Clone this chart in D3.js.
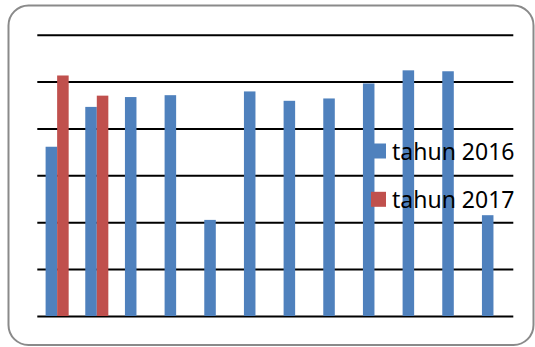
<!DOCTYPE html>
<html>
<head>
<meta charset="utf-8">
<script src="https://cdnjs.cloudflare.com/ajax/libs/d3/7.8.5/d3.min.js"></script>
<style>
  body { margin: 0; background: #fff; }
  .legend { font-family: "Noto Sans", sans-serif; font-size: 23px; fill: #000; }
</style>
</head>
<body>
<div id="chart"></div>
<script>
// data
const categories = ["1", "2", "3", "4", "5", "6", "7", "8", "9", "10", "11", "12"];
const series = ["tahun 2016", "tahun 2017"];
const values2016 = [36.1, 44.6, 46.7, 47.1, 20.5, 47.9, 45.9, 46.4, 49.6, 52.4, 52.2, 21.5];
const values2017 = [51.3, 47.0, null, null, null, null, null, null, null, null, null, null];
const yTicks = [0, 10, 20, 30, 40, 50, 60];
const colors = ["#4F81BD", "#C0504D"];

const W = 535, H = 347;
const plot = {left: 37.3, right: 513.3, top: 34.7, bottom: 316};

const svg = d3.select("#chart")
  .append("svg")
    .attr("width", W)
    .attr("height", H);

// outer rounded frame
svg.append("rect")
  .attr("x", 8.5)
  .attr("y", 5.5)
  .attr("width", 525)
  .attr("height", 339.5)
  .attr("rx", 20)
  .attr("fill", "#fff")
  .attr("stroke", "#8a8a8a")
  .attr("stroke-width", 2);

// scales
const x0 = d3.scaleBand()
  .domain(categories)
  .range([plot.left, plot.right])
  .padding(0);

const x1 = d3.scaleBand()
  .domain(series)
  .range([0, x0.bandwidth()])
  .paddingInner(0)
  .paddingOuter(0.72);

const y = d3.scaleLinear()
  .domain([0, 60])
  .range([plot.bottom, plot.top]);

const color = d3.scaleOrdinal().domain(series).range(colors);

// horizontal grid lines
svg.append("g")
  .attr("transform", `translate(${plot.left},0)`)
  .call(d3.axisLeft(y).tickValues(yTicks).tickSize(-(plot.right - plot.left)).tickFormat(""))
  .call(g => g.select(".domain").remove())
  .call(g => g.selectAll(".tick line").attr("stroke", "#000").attr("stroke-width", 2));

// bars
const rows = categories.map((c, i) => ({cat: c, vals: [
  {key: series[0], v: values2016[i]},
  {key: series[1], v: values2017[i]}
]}));

svg.append("g")
  .selectAll("g")
  .data(rows)
  .join("g")
    .attr("transform", d => `translate(${x0(d.cat)},0)`)
  .selectAll("rect")
  .data(d => d.vals.filter(e => e.v != null))
  .join("rect")
    .attr("x", d => x1(d.key))
    .attr("y", d => y(d.v))
    .attr("width", x1.bandwidth())
    .attr("height", d => y(0) - y(d.v))
    .attr("fill", d => color(d.key));

// legend
const legend = svg.append("g");
series.forEach((s, i) => {
  legend.append("rect")
    .attr("x", 371)
    .attr("y", 143.5 + i * 48.3)
    .attr("width", 15)
    .attr("height", 15)
    .attr("fill", color(s));
  legend.append("text")
    .attr("class", "legend")
    .attr("x", 392)
    .attr("y", 159.5 + i * 48.3)
    .text(s);
});
</script>
</body>
</html>
